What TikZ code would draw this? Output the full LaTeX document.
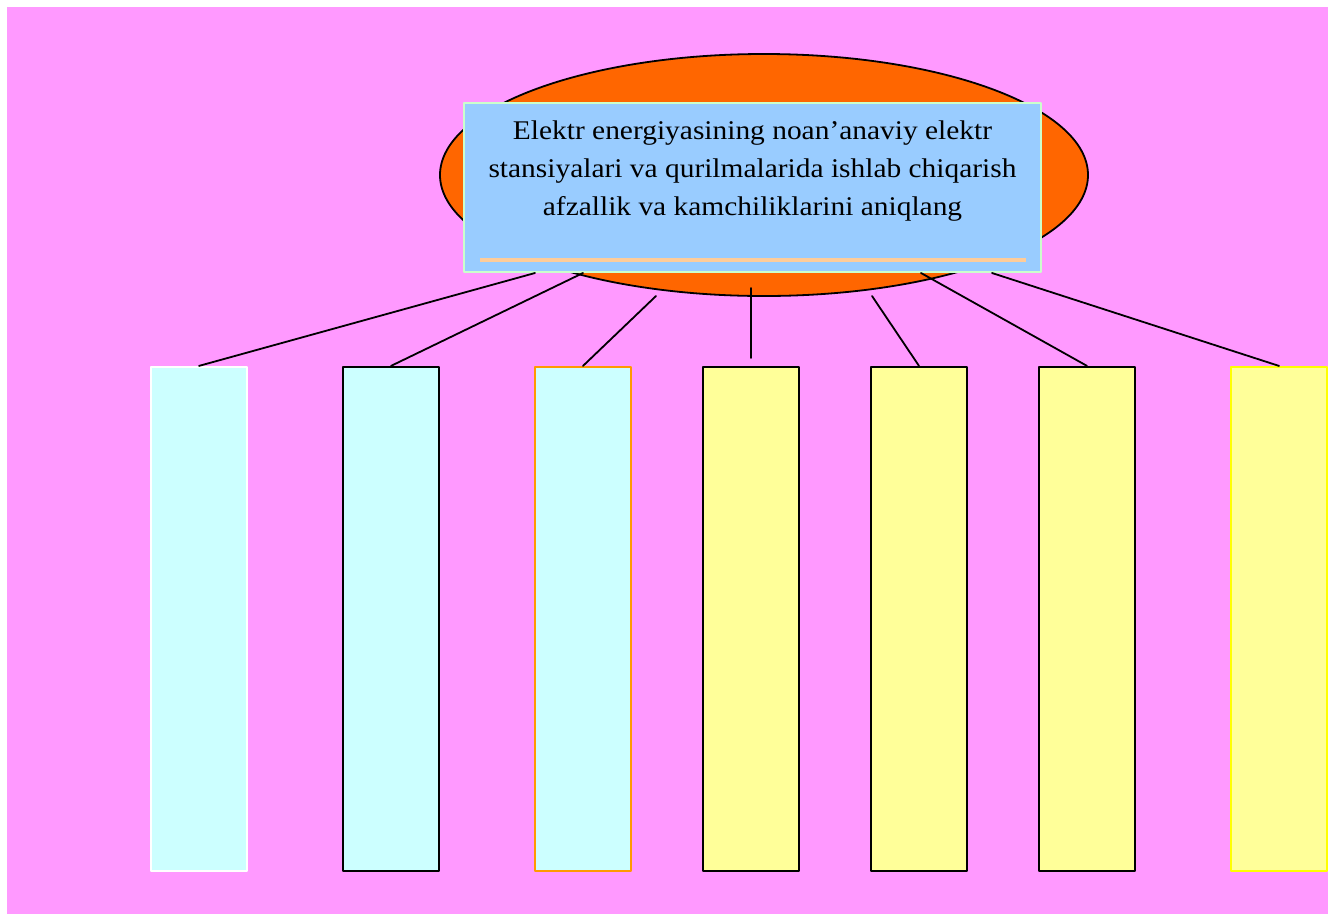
\documentclass[tikz,border=0pt]{standalone}
\usepackage{fontspec}
\setmainfont{Liberation Serif}
\usetikzlibrary{shapes.geometric}
\definecolor{bgpink}{HTML}{FF99FF}
\definecolor{ovalorange}{HTML}{FF6600}
\definecolor{titleblue}{HTML}{99CCFF}
\definecolor{edgegreen}{HTML}{CCFFCC}
\definecolor{peach}{HTML}{FFCC99}
\definecolor{palecyan}{HTML}{CCFFFF}
\definecolor{paleyellow}{HTML}{FFFF99}
\definecolor{edgeorange}{HTML}{FF9900}
\definecolor{edgeyellow}{HTML}{FFFF00}
\begin{document}
\begin{tikzpicture}[x=1pt,y=-1pt,line join=round,line cap=round,
	colbox/.style={rectangle,minimum width=96,minimum height=504,line width=2.2,inner sep=0},
	link/.style={line width=1.8}]
	\useasboundingbox (0,0) rectangle (1328,914);
	\fill[white] (0,0) rectangle (1328,914);
	\fill[bgpink] (7,7) rectangle (1328,914);
	% oval and title box
	\node[ellipse,draw,line width=1.8,fill=ovalorange,minimum width=648,minimum height=242,inner sep=0] (oval) at (764,175) {};
	\node[rectangle,draw=edgegreen,line width=2,fill=titleblue,minimum width=577,minimum height=169,inner sep=0,anchor=north west] (q) at (463,102) {};
	\node[align=center,font=\fontsize{27}{38}\selectfont\addfontfeatures{FakeStretch=1.09}] (qtext) at ([yshift=16]q.center) {Elektr energiyasining noan’anaviy elektr\\stansiyalari va qurilmalarida ishlab chiqarish\\afzallik va kamchiliklarini aniqlang};
	\draw[peach,line width=4,line cap=butt] ([xshift=17,yshift=13]q.south west) -- ([xshift=-16,yshift=13]q.south east);
	% columns
	\foreach \i/\xx/\fc/\dc in {1/199/palecyan/white,2/391/palecyan/black,3/583/palecyan/edgeorange,4/751/paleyellow/black,5/919/paleyellow/black,6/1087/paleyellow/black,7/1279/paleyellow/edgeyellow}
		\node[colbox,fill=\fc,draw=\dc] (b\i) at (\xx,619) {};
	% connectors
	\coordinate (t1) at ([xshift=72]q.south west);
	\coordinate (t2) at ([xshift=120]q.south west);
	\coordinate (t3) at (656,296);
	\coordinate (t4) at (751,288);
	\coordinate (t5) at (872,296);
	\coordinate (t6) at ([xshift=458]q.south west);
	\coordinate (t7) at ([xshift=-50]q.south east);
	\foreach \i in {1,2,3,5,6,7}
		\draw[link] (t\i) -- (b\i.north);
	\draw[link] (t4) -- ([yshift=8]b4.north);
\end{tikzpicture}
\end{document}
